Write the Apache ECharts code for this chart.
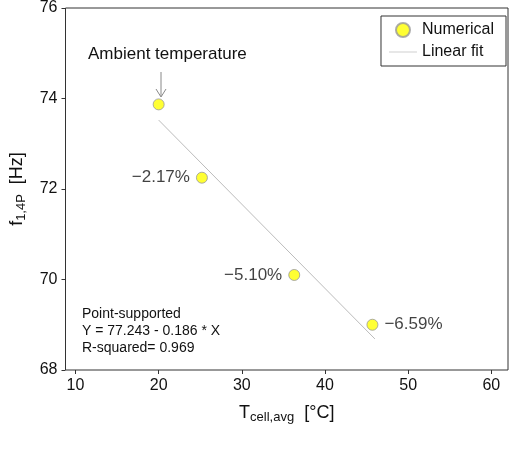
<!DOCTYPE html>
<html><head><meta charset="utf-8">
<script src="https://cdn.jsdelivr.net/npm/echarts@6/dist/echarts.min.js"></script>
<style>html,body{margin:0;background:#fff}#c{width:520px;height:449px}</style>
</head><body><div id="c"></div>
<script>
var temps = [20.0, 25.2, 36.3, 45.7];
var freqs = [73.87, 72.25, 70.1, 69.0];
var pctLabels = ['', '\u22122.17%', '\u22125.10%', '\u22126.59%'];
var labelSide = ['left', 'left', 'left', 'right'];
var fitX = [20, 46];
var fitY = fitX.map(function (x) { return 77.243 - 0.186 * x; });

var chart = echarts.init(document.getElementById('c'));
var f = 'Arial, Liberation Sans, sans-serif';
chart.setOption({
  animation: false,
  textStyle: { fontFamily: f },
  grid: { left: 64, right: 12, top: 8, bottom: 79, show: true, borderColor: '#333', borderWidth: 1 },
  xAxis: {
    type: 'value', min: 8.8, max: 62, interval: 10,
    axisLine: { show: false }, splitLine: { show: false },
    axisTick: { show: true, inside: false, length: 4, lineStyle: { color: '#333' }, customValues: [10,20,30,40,50,60] },
    axisLabel: { fontSize: 16, color: '#111', customValues: [10,20,30,40,50,60] },
    name: '{a|T}{s|cell,avg}{a|  [°C]}', nameLocation: 'middle', nameGap: 33,
    nameTextStyle: { rich: { a: { fontSize: 18, color: '#111' }, s: { fontSize: 13, color: '#111', padding: [8,0,0,0] } } }
  },
  yAxis: {
    type: 'value', min: 68, max: 76, interval: 2,
    axisLine: { show: false }, splitLine: { show: false },
    axisTick: { show: true, length: 4, lineStyle: { color: '#333' } },
    axisLabel: { fontSize: 16, color: '#111' },
    name: '{a|f}{s|1,4P}{a|  [Hz]}', nameLocation: 'middle', nameGap: 38,
    nameTextStyle: { rich: { a: { fontSize: 18, color: '#111' }, s: { fontSize: 13, color: '#111', padding: [8,0,0,0] } } }
  },
  legend: {
    right: 14, top: 16, orient: 'vertical', itemGap: 6, itemWidth: 28,
    borderColor: '#333', borderWidth: 1, padding: [6, 12, 6, 8],
    textStyle: { fontSize: 16, color: '#111' },
    data: [{ name: 'Numerical', icon: 'circle' },
           { name: 'Linear fit', icon: 'path://M0,0 L40,0 L40,1 L0,1 Z' }]
  },
  series: [
    {
      name: 'Linear fit', type: 'line', symbol: 'none', z: 1,
      lineStyle: { color: '#bbb', width: 1 },
      itemStyle: { color: '#bbb' },
      data: fitX.map(function (x, i) { return [x, fitY[i]]; })
    },
    {
      name: 'Numerical', type: 'scatter', symbolSize: 11, z: 3,
      itemStyle: { color: '#ffff00', borderColor: '#999', borderWidth: 1 },
      data: temps.map(function (t, i) {
        return { value: [t, freqs[i]], label: { show: !!pctLabels[i], position: labelSide[i], formatter: pctLabels[i], fontSize: 17, color: '#111', distance: 6 } };
      })
    }
  ],
  graphic: [
    { type: 'text', left: 88, top: 46, style: { text: 'Ambient temperature', fontSize: 17, fill: '#111', fontFamily: f } },
    { type: 'line', shape: { x1: 161, y1: 72, x2: 161, y2: 96 }, style: { stroke: '#888', lineWidth: 1 } },
    { type: 'polyline', shape: { points: [[156, 89], [161, 97], [166, 89]] }, style: { stroke: '#888', fill: null, lineWidth: 1 } },
    { type: 'text', left: 82, top: 306, style: { text: 'Point-supported\nY = 77.243 - 0.186 * X\nR-squared= 0.969', fontSize: 14, lineHeight: 17, fill: '#111', fontFamily: f } }
  ]
});
</script></body></html>
